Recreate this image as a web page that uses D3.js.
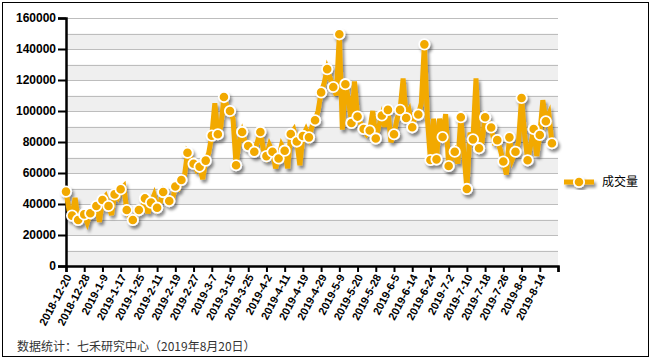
<!DOCTYPE html>
<html lang="zh">
<head>
    <meta charset="UTF-8">
    <title>成交量</title>
    <style>
        body { margin: 0; background: #fff; }
        svg { display: block; font-family: "Liberation Sans", Arial, sans-serif; }
        .ylab { font-size: 12px; font-weight: bold; }
        .xlab { font-size: 11px; font-weight: bold; }
    </style>
</head>
<body>
<svg id="chart" width="652" height="360"></svg>
<script src="https://cdnjs.cloudflare.com/ajax/libs/d3/7.8.5/d3.min.js"></script>
<script>
    var seriesName = "成交量";
    var source = "数据统计：七禾研究中心（2019年8月20日）";

    var dateLabels = ["2018-12-20", "2018-12-28", "2019-1-9", "2019-1-17", "2019-1-25", "2019-2-11",
        "2019-2-19", "2019-2-27", "2019-3-7", "2019-3-15", "2019-3-25", "2019-4-2", "2019-4-11",
        "2019-4-19", "2019-4-29", "2019-5-9", "2019-5-20", "2019-5-28", "2019-6-5", "2019-6-14",
        "2019-6-24", "2019-7-2", "2019-7-10", "2019-7-18", "2019-7-26", "2019-8-6", "2019-8-14"];

    var yTicks = [0, 20000, 40000, 60000, 80000, 100000, 120000, 140000, 160000];

    // daily volume, one value per trading day (markers sit on every second day)
    var volume = [
        48000, 36000, 32500, 44000, 29700, 31000, 33300, 28000, 34000, 36000,
        38700, 28500, 42600, 45000, 38700, 33000, 46200, 44000, 49500, 51500,
        36100, 31000, 29700, 33000, 36100, 37000, 43600, 34000, 40900, 45800,
        37600, 41000, 47700, 44000, 41900, 42000, 51300, 50000, 55500, 58000,
        73100, 70000, 66000, 62000, 64000, 56000, 68000, 73000, 84100, 105000,
        85000, 90000, 109000, 103000, 100000, 95000, 65000, 80000, 86500, 80000,
        77400, 75000, 73700, 80000, 86500, 75000, 70900, 78000, 73700, 63000,
        69400, 78000, 74400, 63000, 85200, 88000, 80300, 65000, 83900, 88000,
        83000, 90000, 94000, 100000, 112000, 118000, 127000, 121000, 115500, 110000,
        149500, 88000, 117300, 108000, 92300, 119000, 96400, 92000, 88400, 85000,
        87400, 100000, 82300, 90000, 97100, 90000, 100700, 80000, 85000, 95000,
        100700, 121000, 95500, 100000, 89500, 97000, 97700, 105000, 143000, 95000,
        68400, 95000, 68800, 95000, 83200, 98000, 64500, 70000, 73700, 66000,
        96000, 73000, 49700, 86000, 81700, 121000, 76000, 80000, 96000, 93000,
        89400, 80000, 81200, 75000, 67400, 59000, 83000, 69000, 73700, 80000,
        108400, 85000, 68200, 78000, 88400, 71000, 84500, 107000, 93400, 98000,
        79200
    ];

    var daysPerTick = 6;
    var orange = "#f2a900";
    var plotLeft = 66, plotRight = 558, plotTop = 18, plotBottom = 266;

    var svg = d3.select("#chart");

    var defs = svg.append("defs");
    defs.append("filter").attr("id", "shadow")
        .attr("x", "-10%").attr("y", "-10%").attr("width", "130%").attr("height", "130%")
        .append("feDropShadow")
        .attr("dx", 2).attr("dy", 3).attr("stdDeviation", 1.6)
        .attr("flood-color", "#000").attr("flood-opacity", 0.45);

    // outer frame
    svg.append("rect")
        .attr("x", 2.5).attr("y", 2.5).attr("width", 646).attr("height", 354)
        .attr("fill", "#fff").attr("stroke", "#000").attr("stroke-width", 1);

    var x = d3.scaleLinear()
        .domain([0, dateLabels.length * daysPerTick])
        .range([plotLeft, plotRight]);
    var y = d3.scaleLinear()
        .domain([0, 160000])
        .range([plotBottom, plotTop]);

    // alternating grey bands and grid lines, one every 10000
    var bands = d3.range(0, 160000, 20000);
    svg.append("g").selectAll("rect")
        .data(bands)
        .enter().append("rect")
        .attr("x", plotLeft).attr("width", plotRight - plotLeft)
        .attr("y", function(d) { return y(d + 10000); })
        .attr("height", function(d) { return y(d) - y(d + 10000); })
        .attr("fill", "#efefef");

    svg.append("g").selectAll("line")
        .data(d3.range(10000, 170000, 10000))
        .enter().append("line")
        .attr("x1", plotLeft).attr("x2", plotRight)
        .attr("y1", function(d) { return Math.round(y(d)) + 0.5; })
        .attr("y2", function(d) { return Math.round(y(d)) + 0.5; })
        .attr("stroke", "#bdbdbd").attr("stroke-width", 1);

    // y axis
    var yAxis = svg.append("g")
        .attr("transform", "translate(" + plotLeft + ",0)")
        .call(d3.axisLeft(y).tickValues(yTicks).tickSize(8).tickPadding(2).tickFormat(d3.format("d")));
    yAxis.select(".domain").attr("stroke-width", 2.5);
    yAxis.selectAll(".tick line").attr("stroke-width", 2);
    yAxis.selectAll("text").attr("class", "ylab").attr("fill", "#000");

    // x axis
    var tickIdx = d3.range(0, dateLabels.length * daysPerTick + 1, daysPerTick);
    var xAxis = svg.append("g")
        .attr("transform", "translate(0," + plotBottom + ")")
        .call(d3.axisBottom(x).tickValues(tickIdx).tickSize(6).tickFormat(function(d) {
            return dateLabels[d / daysPerTick] || "";
        }));
    xAxis.select(".domain").attr("stroke-width", 2.5);
    xAxis.selectAll(".tick line").attr("stroke-width", 2);
    xAxis.selectAll("text")
        .attr("class", "xlab").attr("fill", "#000")
        .attr("text-anchor", "end")
        .attr("x", 0).attr("y", 0)
        .attr("dy", "0.35em")
        .attr("transform", "translate(2,9) rotate(-62)");

    // line and markers
    var line = d3.line()
        .x(function(d, i) { return x(i); })
        .y(function(d) { return y(d); });

    var plot = svg.append("g").attr("filter", "url(#shadow)");
    plot.append("path")
        .datum(volume)
        .attr("d", line)
        .attr("fill", "none")
        .attr("stroke", orange)
        .attr("stroke-width", 5)
        .attr("stroke-linejoin", "miter")
        .attr("stroke-miterlimit", 4);

    plot.selectAll("circle")
        .data(volume.map(function(v, i) { return [i, v]; }).filter(function(d) { return d[0] % 2 === 0; }))
        .enter().append("circle")
        .attr("cx", function(d) { return x(d[0]); })
        .attr("cy", function(d) { return y(d[1]); })
        .attr("r", 5.2)
        .attr("fill", orange)
        .attr("stroke", "#fff")
        .attr("stroke-width", 1.8);

    // legend
    var legend = svg.append("g").attr("transform", "translate(564,182)");
    var lg = legend.append("g").attr("filter", "url(#shadow)");
    lg.append("line")
        .attr("x1", 0).attr("x2", 30)
        .attr("stroke", orange).attr("stroke-width", 5);
    lg.append("circle")
        .attr("cx", 15).attr("r", 5.2)
        .attr("fill", orange).attr("stroke", "#fff").attr("stroke-width", 1.8);
    legend.append("text")
        .attr("x", 38).attr("dy", "0.36em")
        .style("font-family", "'Noto Sans CJK SC', sans-serif")
        .style("font-size", "12px")
        .attr("fill", "#000")
        .text(seriesName);

    // source note
    svg.append("text")
        .attr("x", 17).attr("y", 351)
        .style("font-family", "'Noto Sans CJK SC', sans-serif")
        .style("font-size", "12px")
        .attr("fill", "#333")
        .text(source);
</script>
</body>
</html>
